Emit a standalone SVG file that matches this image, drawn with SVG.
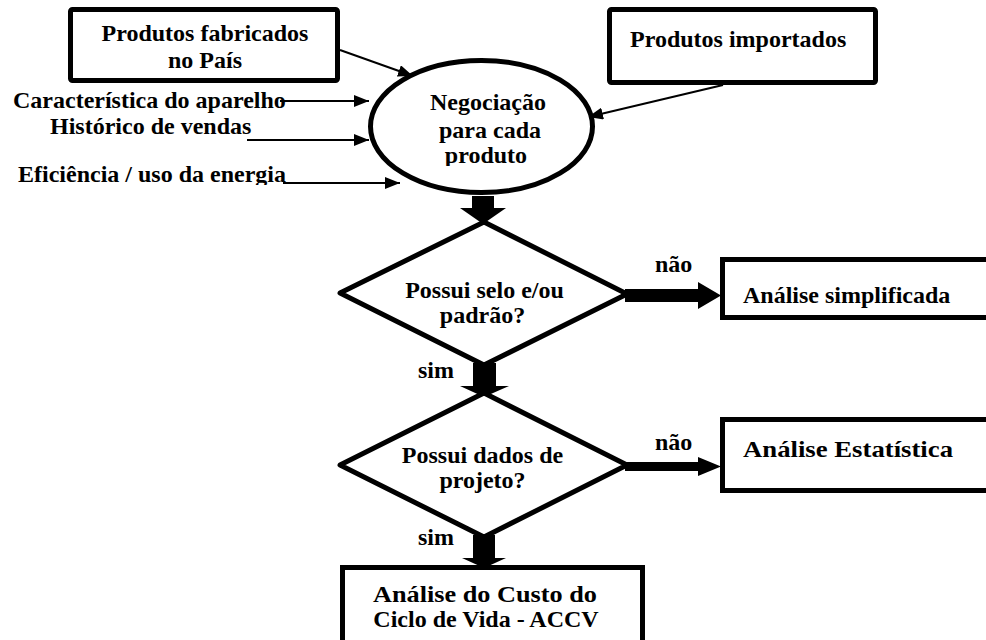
<svg xmlns="http://www.w3.org/2000/svg" width="986" height="640" viewBox="0 0 986 640">
<defs>
<style>
text{font-family:"Liberation Serif","Times New Roman",serif;font-weight:bold;font-size:24px;fill:#000}
.c{text-anchor:middle}
.box{fill:#fff;stroke:#000;stroke-width:5}
.thin{stroke:#000;stroke-width:2;fill:none;marker-end:url(#ah)}
.blk{fill:#000;stroke:none}
</style>
<marker id="ah" markerUnits="userSpaceOnUse" markerWidth="16" markerHeight="12" refX="15" refY="6" orient="auto">
<path d="M0,0 L15,6 L0,12 z" fill="#000"/>
</marker>
<clipPath id="clipNeg"><rect x="370" y="60" width="230" height="106"/></clipPath>
<clipPath id="clipEf"><rect x="0" y="150" width="320" height="35"/></clipPath>
</defs>
<rect width="986" height="640" fill="#fff"/>

<g id="connectors">
<line class="thin" x1="340" y1="50" x2="413" y2="76"/>
<line class="thin" x1="723" y1="85" x2="588" y2="117"/>
<line class="thin" x1="280" y1="101" x2="369" y2="101"/>
<line class="thin" x1="247" y1="140" x2="369" y2="140"/>
<line class="thin" x1="283" y1="183" x2="400" y2="183"/>
<polygon class="blk" points="472,196 494,196 494,208 506,208 483,224 460,208 472,208"/>
<polygon class="blk" points="473,363 496,363 496,386 509,386 484,397 460,386 473,386"/>
<polygon class="blk" points="473,535 495,535 495,558 506,558 484,568 462,558 473,558"/>
<polygon class="blk" points="625,289 698,289 698,282 721,295.5 698,309 698,302 625,302"/>
<polygon class="blk" points="625,462 698,462 698,457 721,466.5 698,476 698,471 625,471"/>
</g>

<g id="produtos-fabricados">
<rect class="box" x="70.5" y="9.5" width="267" height="71" rx="2"/>
<text class="c" x="205" y="41">Produtos fabricados</text>
<text class="c" x="205" y="68">no País</text>
</g>

<g id="produtos-importados">
<rect class="box" x="609.5" y="9.5" width="266" height="73" rx="2"/>
<text x="630" y="47">Produtos importados</text>
</g>

<g id="inputs">
<text x="13" y="108">Característica do aparelho</text>
<text x="50" y="134">Histórico de vendas</text>
<text x="18" y="182" clip-path="url(#clipEf)">Eficiência / uso da energia</text>
</g>

<g id="negociacao">
<ellipse cx="481.5" cy="126.5" rx="111" ry="66" fill="#fff" stroke="#000" stroke-width="5"/>
<g clip-path="url(#clipNeg)">
<text class="c" x="488" y="110">Negociação</text>
<text class="c" x="490" y="138">para cada</text>
<text class="c" x="486" y="163">produto</text>
</g>
</g>

<g id="decisao-selo">
<polygon points="484,222 627,294 484,365 340,293" fill="#fff" stroke="#000" stroke-width="5" stroke-linejoin="round"/>
<text class="c" x="484.5" y="298">Possui selo e/ou</text>
<text class="c" x="482.5" y="323">padrão?</text>
</g>

<g id="analise-simplificada">
<rect class="box" x="722.5" y="259.5" width="290" height="58"/>
<text x="743" y="303">Análise simplificada</text>
</g>

<g id="decisao-dados">
<polygon points="484,393 627,465 484,537 340,465" fill="#fff" stroke="#000" stroke-width="5" stroke-linejoin="round"/>
<text class="c" x="482.5" y="463">Possui dados de</text>
<text class="c" x="482.5" y="488">projeto?</text>
</g>

<g id="analise-estatistica">
<rect class="box" x="722.5" y="419.5" width="290" height="71"/>
<text x="743" y="457" textLength="210" lengthAdjust="spacingAndGlyphs">Análise Estatística</text>
</g>

<g id="accv">
<rect class="box" x="342.5" y="567.5" width="300" height="100"/>
<text x="373" y="602" textLength="224" lengthAdjust="spacingAndGlyphs">Análise do Custo do</text>
<text class="c" x="486" y="627">Ciclo de Vida - ACCV</text>
</g>

<g id="labels">
<text x="655" y="272">não</text>
<text x="418" y="378">sim</text>
<text x="655" y="450">não</text>
<text x="418" y="545">sim</text>
</g>
</svg>
